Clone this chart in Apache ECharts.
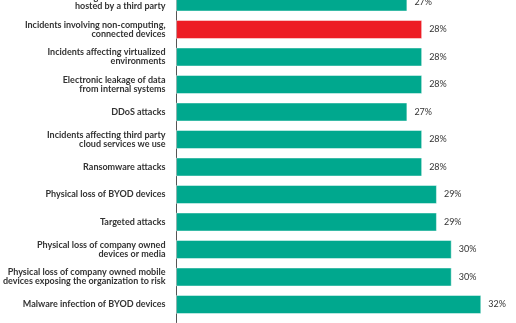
<!DOCTYPE html>
<html>
<head>
<meta charset="utf-8">
<script src="https://cdn.jsdelivr.net/npm/echarts@6/dist/echarts.min.js"></script>
<style>
  html, body { margin: 0; padding: 0; background: #ffffff; overflow: hidden; width: 516px; height: 323px; }
  #wrap { position: relative; width: 516px; height: 323px; overflow: hidden; }
  #chart { position: absolute; left: 0; top: -12px; width: 516px; height: 360px; }
</style>
</head>
<body>
<div id="wrap"><div id="chart"></div></div>
<script>
const categories = [
  "Incidents affecting IT infrastructure\nhosted by a third party",
  "Incidents involving non-computing,\nconnected devices",
  "Incidents affecting virtualized\nenvironments",
  "Electronic leakage of data\nfrom internal systems",
  "DDoS attacks",
  "Incidents affecting third party\ncloud services we use",
  "Ransomware attacks",
  "Physical loss of BYOD devices",
  "Targeted attacks",
  "Physical loss of company owned\ndevices or media",
  "Physical loss of company owned mobile\ndevices exposing the organization to risk",
  "Malware infection of BYOD devices",
  ""
];
const values = [27, 28, 28, 28, 27, 28, 28, 29, 29, 30, 30, 32, 30];
const highlighted = [1];

const TEAL = '#00a88e';
const RED = '#ed1c24';

const chart = echarts.init(document.getElementById('chart'), null, { renderer: 'canvas' });
chart.setOption({
  animation: false,
  backgroundColor: '#ffffff',
  grid: { left: 176, width: 340, top: 0.25, height: 357.5, containLabel: false },
  xAxis: {
    type: 'value', min: 11.38, max: 34.35,
    show: false
  },
  yAxis: {
    type: 'category', data: categories, inverse: true,
    axisLine: { show: true, lineStyle: { color: '#555555', width: 1 } },
    axisTick: { show: false },
    splitLine: { show: false },
    axisLabel: {
      margin: 11, fontSize: 9, lineHeight: 9, color: '#333333',
      fontFamily: 'Lato', fontWeight: 'bold', align: 'right'
    }
  },
  series: [{
    type: 'bar',
    barWidth: 19,
    data: values.map((v, i) => ({
      value: v,
      itemStyle: { color: highlighted.includes(i) ? RED : TEAL }
    })),
    itemStyle: { borderColor: 'rgba(255,255,255,0.45)', borderWidth: 1 },
    label: {
      show: true, position: 'right', distance: 7,
      formatter: '{c}%', fontSize: 9, color: '#333333', fontFamily: 'Lato'
    }
  }]
});
</script>
</body>
</html>
